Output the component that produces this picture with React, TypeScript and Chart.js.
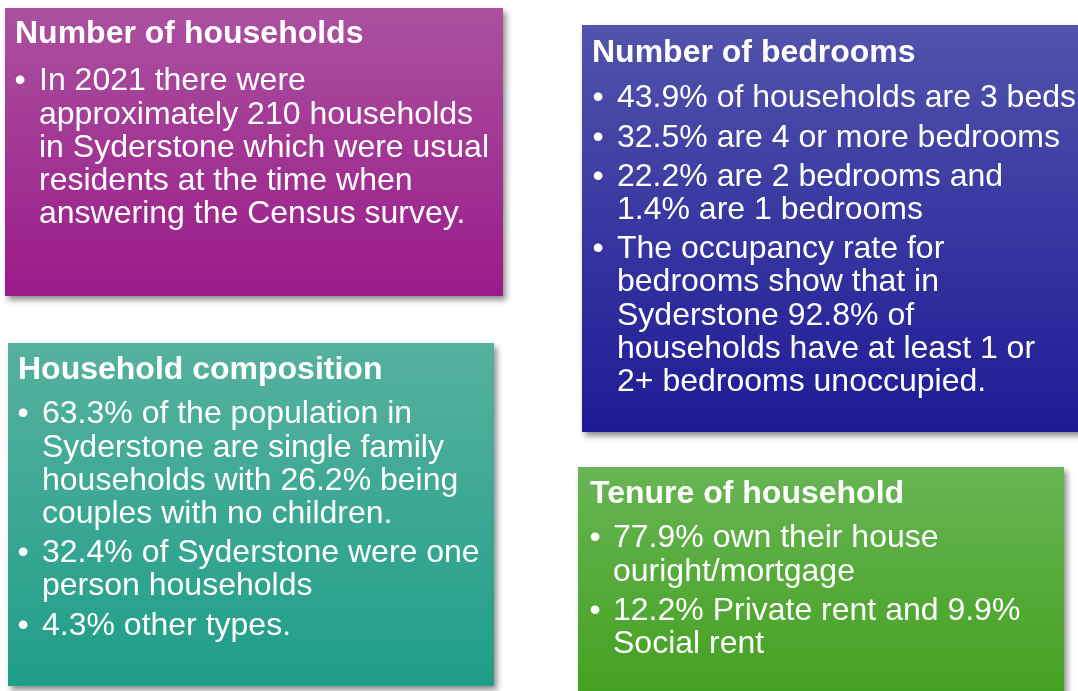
import React, { useEffect, useRef } from "react";
import { Chart, registerables } from "chart.js";

Chart.register(...registerables);

// ---- Content (data) ----
const boxTitles = [
  "Number of households",
  "Number of bedrooms",
  "Household composition",
  "Tenure of household",
];

const householdsBullets = [
  [
    "In 2021 there were",
    "approximately 210 households",
    "in Syderstone which were usual",
    "residents at the time when",
    "answering the Census survey.",
  ],
];

const bedroomsBullets = [
  ["43.9% of households are 3 beds"],
  ["32.5% are 4 or more bedrooms"],
  ["22.2% are 2 bedrooms and", "1.4% are 1 bedrooms"],
  [
    "The occupancy rate for",
    "bedrooms show that in",
    "Syderstone 92.8% of",
    "households have at least 1 or",
    "2+ bedrooms unoccupied.",
  ],
];

const compositionBullets = [
  [
    "63.3% of the population in",
    "Syderstone are single family",
    "households with 26.2% being",
    "couples with no children.",
  ],
  ["32.4% of Syderstone were one", "person households"],
  ["4.3% other types."],
];

const tenureBullets = [
  ["77.9% own their house", "ouright/mortgage"],
  ["12.2% Private rent and 9.9%", "Social rent"],
];

const boxBullets = [householdsBullets, bedroomsBullets, compositionBullets, tenureBullets];

// ---- Layout & styles ----
const boxLayout = [
  { left: 5, top: 8, width: 498, height: 288, titleBase: 35, bodyBase: 82, titleLeft: 10, bulletC: 15, textLeft: 34 },
  { left: 582, top: 25, width: 510, height: 407, titleBase: 37, bodyBase: 82, titleLeft: 10, bulletC: 16, textLeft: 35 },
  { left: 8, top: 343, width: 486, height: 343, titleBase: 36, bodyBase: 80, titleLeft: 10, bulletC: 15, textLeft: 34 },
  { left: 578, top: 467, width: 486, height: 232, titleBase: 36, bodyBase: 80, titleLeft: 12, bulletC: 17, textLeft: 35 },
];

const boxGradients = [
  ["#AB51A0", "#991B88"],
  ["#5253AB", "#1E1A96"],
  ["#56B19F", "#1F9E88"],
  ["#67B554", "#44A01F"],
];

const FONT = '"Liberation Sans", Arial, Helvetica, sans-serif';
const FS = 32;
const LH = 33.2;
const BASE_IN_LINE = 26.7;
const PARA_GAP = 6;

const bgPlugin = {
  id: "boxBackground",
  beforeDraw(chart: any) {
    const opts = chart.options.plugins.boxBackground || {};
    const { ctx, width, height } = chart;
    const g = ctx.createLinearGradient(0, 0, 0, height);
    g.addColorStop(0, opts.top);
    g.addColorStop(1, opts.bottom);
    ctx.save();
    ctx.fillStyle = g;
    ctx.fillRect(0, 0, width, height);
    ctx.restore();
  },
};

function Box({ idx }: { idx: number }) {
  const ref = useRef<HTMLCanvasElement | null>(null);
  const L = boxLayout[idx];
  const [top, bottom] = boxGradients[idx];

  useEffect(() => {
    if (!ref.current) return;
    const chart = new Chart(ref.current, {
      type: "bar",
      data: { labels: [], datasets: [] },
      options: {
        animation: false,
        responsive: false,
        events: [],
        layout: { padding: 0 },
        scales: { x: { display: false }, y: { display: false } },
        plugins: {
          legend: { display: false },
          tooltip: { enabled: false },
          title: { display: false },
          // @ts-ignore
          boxBackground: { top, bottom },
        },
      } as any,
      plugins: [bgPlugin as any],
    });
    return () => chart.destroy();
  }, [idx]);

  return (
    <div
      style={{
        position: "absolute",
        left: L.left,
        top: L.top,
        width: L.width,
        height: L.height,
        boxShadow: "3px 4px 6px rgba(0,0,0,0.45)",
      }}
    >
      <canvas
        ref={ref}
        width={L.width}
        height={L.height}
        style={{ position: "absolute", left: 0, top: 0, width: L.width, height: L.height, display: "block" }}
      />
      <div
        style={{
          position: "absolute",
          left: L.titleLeft,
          top: L.titleBase - BASE_IN_LINE,
          font: `bold ${FS}px/${LH}px ${FONT}`,
          color: "#fff",
          whiteSpace: "nowrap",
        }}
      >
        {boxTitles[idx]}
      </div>
      <div
        style={{
          position: "absolute",
          left: 0,
          top: L.bodyBase - BASE_IN_LINE,
          font: `${FS}px/${LH}px ${FONT}`,
          color: "#fff",
          whiteSpace: "nowrap",
        }}
      >
        {boxBullets[idx].map((lines, i) => (
          <div key={i} style={{ position: "relative", paddingLeft: L.textLeft, marginTop: i === 0 ? 0 : PARA_GAP }}>
            <span style={{ position: "absolute", left: L.bulletC - 5.6, top: 0 }}>•</span>
            {lines.map((ln, j) => (
              <div key={j}>{ln}</div>
            ))}
          </div>
        ))}
      </div>
    </div>
  );
}

export default function App() {
  return (
    <div
      style={{
        position: "absolute",
        left: 0,
        top: 0,
        width: 1078,
        height: 691,
        overflow: "hidden",
        background: "#fff",
      }}
    >
      {boxTitles.map((_, i) => (
        <Box key={i} idx={i} />
      ))}
    </div>
  );
}
